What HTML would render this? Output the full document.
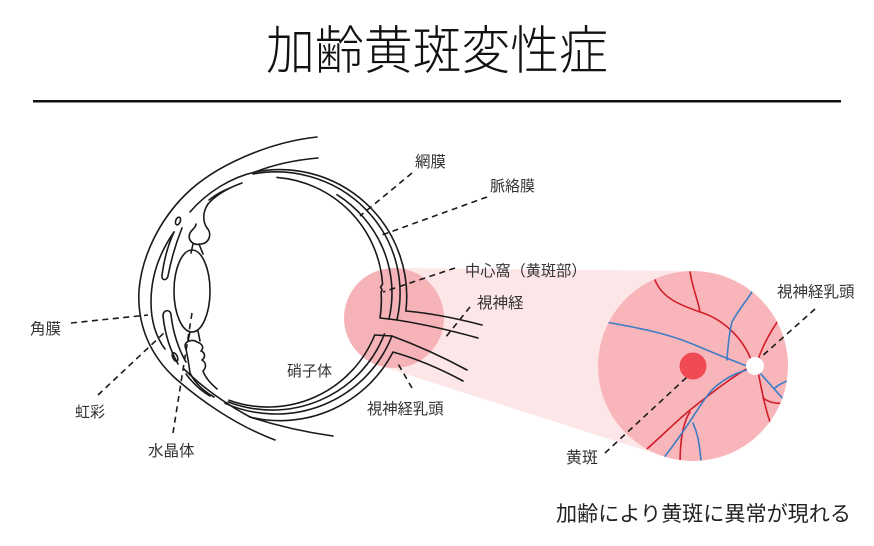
<!DOCTYPE html>
<html><head><meta charset="utf-8"><style>
html,body{margin:0;padding:0;background:#fff;}
svg{display:block;}
text{font-family:"Liberation Sans","Noto Sans CJK JP",sans-serif;}
</style></head><body>
<svg width="874" height="546" viewBox="0 0 874 546" xmlns="http://www.w3.org/2000/svg">
<defs><clipPath id="fc"><circle cx="693" cy="366" r="95"/></clipPath></defs>
<rect width="874" height="546" fill="#fff"/>
<text x="266" y="69" font-size="52" font-weight="300" fill="#111" textLength="342" lengthAdjust="spacingAndGlyphs">加齢黄斑変性症</text>
<rect x="33" y="100" width="808" height="2.5" fill="#111"/>

<polygon points="394.5,268 694,271 664,456.5 379,365.6" fill="#fde6e7"/>
<circle cx="394" cy="318" r="50" fill="#f6b3b7"/>
<circle cx="693" cy="366" r="95" fill="#f9b6ba"/>

<g fill="none" stroke="#1a1a1a" stroke-width="1.6" stroke-linecap="round" stroke-linejoin="round">
<!-- outer eyelid/cornea -->
<path d="M317,137 C270,142 215,165 185,195 C160,220 142,255 139,290 C137,325 150,355 175,378 C200,400 235,425 275,440"/>
<path d="M255,172 Q283,161 318,158"/>
<path d="M250,417 Q290,430 333,436"/>
<!-- cornea inner -->
<path d="M255,172 C232,177 207,192 190,212"/>
<path d="M174,232 C160,252 151,275 151,302 C151,322 156,337 165,349"/>
<path d="M184,369 C205,390 228,405 250,417"/>
<!-- globe layer a -->
<path d="M255,172 A127,127 0 0 1 405.9,311 Q440,314 482,325"/>
<path d="M463,381 Q428,362 393,352 A127,127 0 0 1 250,417"/>
<!-- layer b -->
<path d="M253,174 A124,121 0 0 1 396.9,320 Q435,326 478,338"/>
<path d="M467,370 Q430,350 391.9,336 A124,121 0 0 1 225,403.3"/>
<!-- layer c -->
<path d="M337,194.7 A120,117 0 0 1 389.2,318"/>
<path d="M384.4,334 A120,117 0 0 1 228,401.9"/>
<!-- layer d retina -->
<path d="M277,177.4 A115,115 0 0 1 382.6,284 l-2,3 l1.5,3 l-1,2 A115,115 0 0 1 380,318 L397,320"/>
<path d="M374.7,335 L392,336"/>
<path d="M374.7,335 A115,115 0 0 1 229,400.2"/>
<!-- top-left inner segments -->
<path d="M242,183 C228,188 216,195 208,204"/>
<path d="M230,188 C222,191 214,196 209,200"/>
<!-- ciliary top -->
<path d="M208,204 C202,213 203,222 207,228 C212,233 210,243 201,244 C193,246 187,240 190,233 C192,229 196,228 196,224"/>
<path d="M193,244 L191,253"/>
<path d="M199,244 L203,254"/>
<!-- upper iris -->
<path d="M182,228 C176,243 171,260 168,276 C167,281 161,281 162,275 C164,260 168,245 174,232"/>
<!-- lower iris -->
<path d="M163,316 C163,309 171,309 171,315 C173,332 178,348 186,362"/>
<path d="M163,316 C165,334 170,350 178,364"/>
<ellipse cx="178" cy="221" rx="2.3" ry="4" transform="rotate(20 178 221)"/>
<ellipse cx="175" cy="357" rx="2.3" ry="4.5" transform="rotate(-25 175 357)"/>
<!-- lens -->
<ellipse cx="192" cy="291" rx="18" ry="41"/>
<!-- ciliary bottom -->
<path d="M190,332 L188,341"/>
<path d="M198,331 L200,341"/>
<path d="M186,349 C182,342 192,338 197,342 C203,344 204,348 201,351 C206,353 205,358 202,360 C207,363 206,368 203,371 C205,377 210,383 217,389"/>
<path d="M186,349 C188,358 189,366 190,373 C196,385 205,392 214,397"/>
<path d="M186,374 C195,386 203,392 210,396"/>
</g>

<!-- dashed pointers -->
<g fill="none" stroke="#1a1a1a" stroke-width="1.6" stroke-dasharray="6 4.5">
<path d="M412,173 L360,216"/>
<path d="M487,197 L382,235"/>
<path d="M455,268 L383,292"/>
<path d="M470,307 L445,338"/>
<path d="M412,388 L397,362"/>
<path d="M71,323 L148,315"/>
<path d="M98,395 L165,332"/>
<path d="M173,433 L192,313"/>
<path d="M605,453 L687,377"/>
<path d="M815,309 L760,358"/>
</g>

<!-- fundus vessels -->
<g clip-path="url(#fc)" fill="none" stroke-width="1.6" stroke-linecap="round">
<g stroke="#d01e2a">
<path d="M655,280 C662,298 680,305 700,312 C720,318 742,335 752,362"/>
<path d="M690,272 C693,290 698,300 700,312"/>
<path d="M757,362 C762,348 768,335 780,318"/>
<path d="M758,372 C762,390 764,405 771,425"/>
<path d="M763,398 C770,403 776,404 790,403"/>
<path d="M750,367 C735,375 715,390 690,410 C672,425 660,438 640,455"/>
<path d="M690,412 C683,422 680,440 680,465"/>
</g>
<g stroke="#3d7dc6">
<path d="M600,321 C640,328 665,333 690,343 C712,352 735,362 750,367"/>
<path d="M727,360 C728,345 729,333 732,322 C738,310 748,300 756,285"/>
<path d="M747,370 C735,373 722,380 712,390 C700,403 690,425 662,460"/>
<path d="M693,423 C697,432 699,440 701,460"/>
<path d="M760,373 C768,382 775,390 786,402"/>
<path d="M775,388 C778,385 782,383 792,379"/>
</g>
</g>
<circle cx="755" cy="366" r="9" fill="#fff"/>
<circle cx="693" cy="366" r="13.5" fill="#f04b55"/>

<g fill="#333">
<text x="415" y="167" font-size="15.5">網膜</text>
<text x="490" y="191" font-size="15">脈絡膜</text>
<text x="465" y="276" font-size="15.2">中心窩（黄斑部）</text>
<text x="477" y="308" font-size="15.5">視神経</text>
<text x="367" y="414" font-size="15.3">視神経乳頭</text>
<text x="287" y="376" font-size="15">硝子体</text>
<text x="30" y="334" font-size="15.5">角膜</text>
<text x="75" y="417" font-size="15">虹彩</text>
<text x="148" y="456" font-size="15.5">水晶体</text>
<text x="777" y="297" font-size="15.5">視神経乳頭</text>
<text x="566" y="463" font-size="16">黄斑</text>
</g>
<text x="556" y="521" font-size="21" fill="#222" textLength="295" lengthAdjust="spacingAndGlyphs">加齢により黄斑に異常が現れる</text>
</svg>
</body></html>
